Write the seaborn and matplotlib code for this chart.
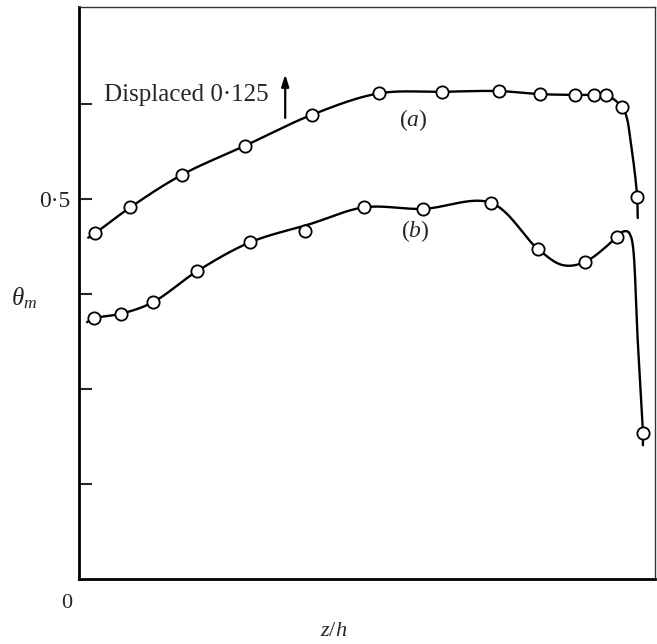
import numpy as np
import pandas as pd
import matplotlib
matplotlib.use("Agg")
import matplotlib.pyplot as plt
import seaborn as sns

# ---- data ----
# markers, curve (a) (displaced by 0.125)
a_z = [0.028, 0.089, 0.179, 0.288, 0.405, 0.521, 0.630, 0.729, 0.800, 0.861, 0.894, 0.915, 0.943, 0.969]
a_t = [0.455, 0.489, 0.532, 0.570, 0.611, 0.639, 0.641, 0.642, 0.638, 0.637, 0.637, 0.637, 0.621, 0.503]
# markers, curve (b)
b_z = [0.026, 0.073, 0.128, 0.205, 0.297, 0.392, 0.495, 0.597, 0.715, 0.797, 0.878, 0.934, 0.979]
b_t = [0.343, 0.349, 0.364, 0.405, 0.443, 0.458, 0.489, 0.487, 0.495, 0.434, 0.417, 0.450, 0.192]
# hand-drawn fitted curves (knots)
ca_z = [0.016, 0.028, 0.089, 0.179, 0.288, 0.405, 0.521, 0.630, 0.729, 0.800, 0.861, 0.894, 0.915, 0.943, 0.951, 0.958, 0.965, 0.969, 0.970]
ca_t = [0.449, 0.455, 0.489, 0.532, 0.570, 0.611, 0.639, 0.641, 0.642, 0.638, 0.637, 0.637, 0.637, 0.621, 0.607, 0.574, 0.534, 0.503, 0.475]
cb_z = [0.014, 0.026, 0.073, 0.128, 0.205, 0.297, 0.401, 0.495, 0.597, 0.715, 0.797, 0.840, 0.878, 0.934, 0.944, 0.953, 0.958, 0.962, 0.970, 0.979, 0.979]
cb_t = [0.338, 0.343, 0.349, 0.364, 0.405, 0.443, 0.467, 0.489, 0.487, 0.495, 0.434, 0.413, 0.417, 0.450, 0.457, 0.457, 0.451, 0.436, 0.314, 0.192, 0.176]
y_ticks = [0.125, 0.25, 0.375, 0.5, 0.625]
y_ticklabels = ["", "", "", "0\u00b75", ""]


def smooth(x, y, n=24, sx=576.0, sy=760.0):
    """Centripetal Catmull-Rom through the knots (rendering only)."""
    P = np.column_stack([np.asarray(x) * sx, np.asarray(y) * sy])
    P = np.vstack([2 * P[0] - P[1], P, 2 * P[-1] - P[-2]])
    out = []
    for i in range(1, len(P) - 2):
        p0, p1, p2, p3 = P[i - 1], P[i], P[i + 1], P[i + 2]
        def tj(ti, a, b):
            return ti + max(np.linalg.norm(b - a), 1e-6) ** 0.5
        t0 = 0.0
        t1 = tj(t0, p0, p1)
        t2 = tj(t1, p1, p2)
        t3 = tj(t2, p2, p3)
        t = np.linspace(t1, t2, n)[:, None]
        A1 = (t1 - t) / (t1 - t0) * p0 + (t - t0) / (t1 - t0) * p1
        A2 = (t2 - t) / (t2 - t1) * p1 + (t - t1) / (t2 - t1) * p2
        A3 = (t3 - t) / (t3 - t2) * p2 + (t - t2) / (t3 - t2) * p3
        B1 = (t2 - t) / (t2 - t0) * A1 + (t - t0) / (t2 - t0) * A2
        B2 = (t3 - t) / (t3 - t1) * A2 + (t - t1) / (t3 - t1) * A3
        C = (t2 - t) / (t2 - t1) * B1 + (t - t1) / (t2 - t1) * B2
        out.append(C if i == 1 else C[1:])
    C = np.vstack(out)
    return C[:, 0] / sx, C[:, 1] / sy


sns.set_style("white")
plt.rcParams["font.family"] = ["Liberation Serif", "DejaVu Serif"]
plt.rcParams["mathtext.fontset"] = "custom"
plt.rcParams["mathtext.rm"] = "Liberation Serif"
plt.rcParams["mathtext.it"] = "Liberation Serif:italic"

fig = plt.figure(figsize=(6.57, 6.44), dpi=100)
ax = fig.add_axes([79 / 657, 1 - 579 / 644, 576 / 657, 572 / 644])

for cz, ct in [(ca_z, ca_t), (cb_z, cb_t)]:
    sx_, sy_ = smooth(cz, ct)
    df = pd.DataFrame({"z": sx_, "t": sy_})
    sns.lineplot(data=df, x="z", y="t", sort=False, estimator=None,
                 color="black", linewidth=1.7, ax=ax, zorder=2)

pts = pd.DataFrame({"z": a_z + b_z, "t": a_t + b_t})
sns.scatterplot(data=pts, x="z", y="t", marker="o", s=78, facecolor="white",
                edgecolor="black", linewidth=1.3, ax=ax, zorder=3)

ax.set_xlim(0, 1)
ax.set_ylim(0, 572 / 760)
ax.set_xticks([])
ax.set_yticks(y_ticks)
ax.set_yticklabels(y_ticklabels, fontsize=17)
ax.tick_params(axis="y", direction="in", length=9, width=1.5, pad=6, left=True)
ax.set_xlabel("")
ax.set_ylabel("")

for side in ["left", "bottom"]:
    ax.spines[side].set_linewidth(2.0)
    ax.spines[side].set_color("black")
for side in ["top", "right"]:
    ax.spines[side].set_linewidth(1.0)
    ax.spines[side].set_color("#333333")

ax.text(0.329, 0.637, "Displaced 0\u00b7125", ha="right", va="center", fontsize=18)
ax.annotate("", xy=(0.358, 0.664), xytext=(0.358, 0.6066),
            arrowprops=dict(arrowstyle="-|>,head_length=0.7,head_width=0.22",
                            color="black", lw=1.6, shrinkA=0, shrinkB=0))
ax.text(0.580, 0.604, "$(a)$", ha="center", va="center", fontsize=17)
ax.text(0.583, 0.458, "$(b)$", ha="center", va="center", fontsize=17)

fig.text(24 / 657, 1 - 298 / 644, r"$\theta_m$", ha="center", va="center", fontsize=18)
fig.text(67 / 657, 1 - 603 / 644, "0", ha="center", va="center", fontsize=16)
fig.text(334 / 657, 1 - 632 / 644, "$z/h$", ha="center", va="center", fontsize=16)

fig.savefig("out.png", dpi=100)
